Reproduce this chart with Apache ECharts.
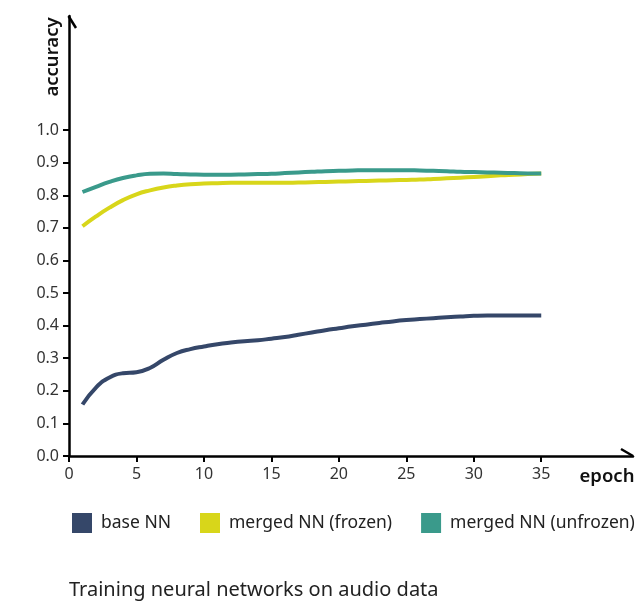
<!DOCTYPE html>
<html>
<head>
<meta charset="utf-8">
<script src="https://cdn.jsdelivr.net/npm/echarts@6/dist/echarts.min.js"></script>
<style>html,body{margin:0;padding:0;background:#fff}#c{width:643px;height:602px}</style>
</head>
<body>
<div id="c"></div>
<script>
const epochs = [1,2,3,4,5,6,7,8,9,10,11,12,13,14,15,16,17,18,19,20,21,22,23,24,25,26,27,28,29,30,31,32,33,34,35];
const baseNN = [0.158,0.21,0.241,0.254,0.257,0.27,0.295,0.316,0.328,0.336,0.343,0.348,0.352,0.355,0.36,0.365,0.372,0.379,0.386,0.392,0.398,0.403,0.408,0.413,0.417,0.42,0.423,0.426,0.428,0.43,0.431,0.431,0.431,0.431,0.431];
const mergedFrozen = [0.705,0.735,0.762,0.785,0.803,0.815,0.824,0.83,0.834,0.836,0.837,0.838,0.838,0.838,0.838,0.838,0.839,0.84,0.841,0.842,0.843,0.844,0.845,0.846,0.847,0.848,0.85,0.852,0.854,0.856,0.858,0.861,0.863,0.865,0.867];
const mergedUnfrozen = [0.81,0.826,0.841,0.853,0.861,0.866,0.867,0.865,0.864,0.863,0.863,0.863,0.864,0.865,0.866,0.868,0.87,0.872,0.874,0.875,0.876,0.877,0.877,0.877,0.877,0.876,0.875,0.874,0.872,0.871,0.87,0.869,0.868,0.867,0.867];
const xTicks = [0,5,10,15,20,25,30,35];
const yTicks = [0,0.1,0.2,0.3,0.4,0.5,0.6,0.7,0.8,0.9,1.0];
const seriesNames = ['base NN','merged NN (frozen)','merged NN (unfrozen)'];
const colors = ['#354769','#d8d61a','#3a9a8b'];

const FONT = '"Noto Sans", "Open Sans", sans-serif';
const chart = echarts.init(document.getElementById('c'), null, {renderer:'canvas'});
const pair = arr => epochs.map((e,i)=>[e,arr[i]]);
chart.setOption({
  animation:false,
  color: colors,
  grid:{left:69, right:10, top:16, bottom:146, containLabel:false},
  xAxis:{
    type:'value', min:0, max:41.8,
    axisLine:{show:true, lineStyle:{color:'#000', width:2.5}},
    axisTick:{show:true, length:6, lineStyle:{color:'#000', width:2}, customValues: xTicks},
    axisLabel:{customValues: xTicks, margin:10, fontSize:16, color:'#333', fontFamily:FONT},
    splitLine:{show:false}
  },
  yAxis:{
    type:'value', min:0, max:1.35,
    axisLine:{show:true, lineStyle:{color:'#000', width:2.5}},
    axisTick:{show:true, length:6, lineStyle:{color:'#000', width:2}, customValues: yTicks},
    axisLabel:{customValues: yTicks, margin:10, fontSize:16, color:'#333', fontFamily:FONT, formatter: v => v.toFixed(1)},
    splitLine:{show:false}
  },
  legend:{
    left:67, top:508, itemWidth:20, itemHeight:20, itemGap:29, icon:'rect',
    textStyle:{fontSize:17.5, color:'#222', fontFamily:FONT, padding:[0,0,0,4]},
    data: seriesNames
  },
  series:[
    {name:seriesNames[0], type:'line', data:pair(baseNN), smooth:true, showSymbol:false, lineStyle:{width:4}},
    {name:seriesNames[1], type:'line', data:pair(mergedFrozen), smooth:true, showSymbol:false, lineStyle:{width:4}},
    {name:seriesNames[2], type:'line', data:pair(mergedUnfrozen), smooth:true, showSymbol:false, lineStyle:{width:4}}
  ],
  graphic:[
    {type:'line', shape:{x1:68.5,y1:16,x2:76,y2:28}, style:{stroke:'#000', lineWidth:2.5}},
    {type:'line', shape:{x1:621,y1:449,x2:633,y2:456}, style:{stroke:'#000', lineWidth:2.5}},
    {type:'text', x:53, y:57, rotation:Math.PI/2, style:{text:'accuracy', font:'600 18.5px '+FONT, fill:'#111', align:'center', verticalAlign:'middle'}},
    {type:'text', x:607, y:477, style:{text:'epoch', font:'600 18.5px '+FONT, fill:'#111', align:'center', verticalAlign:'middle'}},
    {type:'text', x:69, y:590, style:{text:'Training neural networks on audio data', font:'20px '+FONT, fill:'#222', align:'left', verticalAlign:'middle'}}
  ]
});
</script>
</body>
</html>
